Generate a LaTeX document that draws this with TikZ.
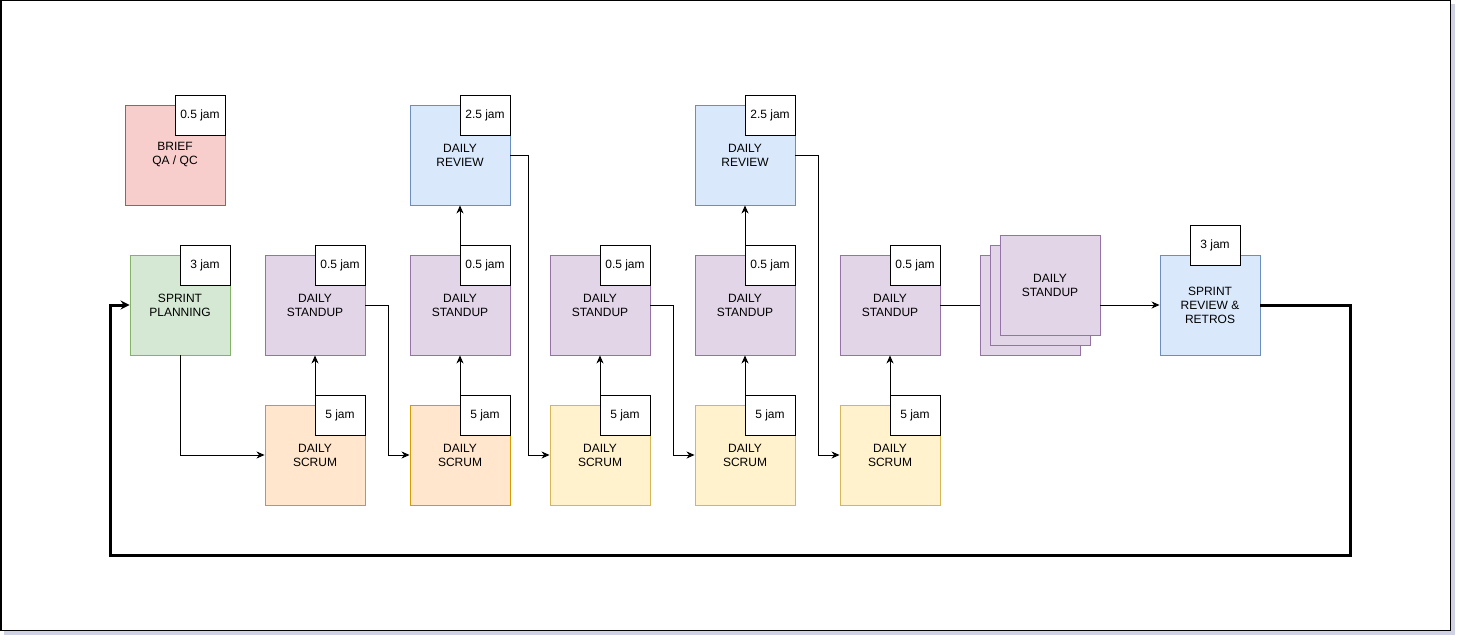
\documentclass[tikz,border=0pt]{standalone}
\usepackage{fontspec}
\setmainfont{Liberation Sans}
\usetikzlibrary{arrows.meta,positioning,calc}
\definecolor{redF}{HTML}{F8CECC}\definecolor{redD}{HTML}{B85450}
\definecolor{greenF}{HTML}{D5E8D4}\definecolor{greenD}{HTML}{82B366}
\definecolor{purpleF}{HTML}{E1D5E7}\definecolor{purpleD}{HTML}{9673A6}
\definecolor{orangeF}{HTML}{FFE6CC}\definecolor{orangeD}{HTML}{D79B00}
\definecolor{yellowF}{HTML}{FFF2CC}\definecolor{yellowD}{HTML}{D6B656}
\definecolor{blueF}{HTML}{DAE8FC}\definecolor{blueD}{HTML}{6C8EBF}
\definecolor{shadowC}{HTML}{CFD2E2}
\tikzset{
  box/.style={minimum width=100, minimum height=100, inner sep=0, align=center, line width=0.9pt, font=\fontsize{12}{14}\selectfont},
  jamtag/.style={draw, fill=white, minimum width=50, minimum height=40, inner sep=0, line width=0.9pt, font=\fontsize{12}{14}\selectfont},
  brief/.style={box, fill=redF, draw=redD},
  planning/.style={box, fill=greenF, draw=greenD},
  standup/.style={box, fill=purpleF, draw=purpleD},
  scrumA/.style={box, fill=orangeF, draw=orangeD},
  scrumB/.style={box, fill=yellowF, draw=yellowD},
  review/.style={box, fill=blueF, draw=blueD},
  arr/.style={line width=0.9pt, -{Stealth[length=8pt,width=7pt,inset=2.5pt]}},
  loopline/.style={line width=3pt, -{Stealth[length=9pt,width=9pt,inset=3pt]}}
}
\begin{document}
\begin{tikzpicture}[x=1pt,y=-1pt]
	\useasboundingbox (0,0) rectangle (1462,642);
	\fill[shadowC] (4,4) rectangle (1455,635);
	\draw[line width=1.5pt, fill=white] (0.75,0.75) rectangle (1450.5,630.5);
	% top row
	\node (brief) at (175,155)[brief] {BRIEF\\QA / QC};
	\node (briefT) at (200,115)[jamtag] {0.5 jam};
	\node (review2) at (460,155)[review] {DAILY\\REVIEW};
	\node (review2T) at (485,115)[jamtag] {2.5 jam};
	\node (review4) at (745,155)[review] {DAILY\\REVIEW};
	\node (review4T) at (770,115)[jamtag] {2.5 jam};
	% middle row
	\node (plan) at (180,305)[planning] {SPRINT\\PLANNING};
	\node (planT) at (205,265)[jamtag] {3 jam};
	\node (stand1) at (315,305)[standup] {DAILY\\STANDUP};
	\node (stand1T) at (340,265)[jamtag] {0.5 jam};
	\node (stand2) at (460,305)[standup] {DAILY\\STANDUP};
	\node (stand2T) at (485,265)[jamtag] {0.5 jam};
	\node (stand3) at (600,305)[standup] {DAILY\\STANDUP};
	\node (stand3T) at (625,265)[jamtag] {0.5 jam};
	\node (stand4) at (745,305)[standup] {DAILY\\STANDUP};
	\node (stand4T) at (770,265)[jamtag] {0.5 jam};
	\node (stand5) at (890,305)[standup] {DAILY\\STANDUP};
	\node (stand5T) at (915,265)[jamtag] {0.5 jam};
	\node (stackA) at (1030,305)[standup] {};
	\node (stackB) at (1040,295)[standup] {};
	\node (stackC) at (1050,285)[standup] {DAILY\\STANDUP};
	\node (retro) at (1210,305)[review] {SPRINT\\REVIEW \&\\RETROS};
	\node (retroT) at (1215,245)[jamtag] {3 jam};
	% bottom row
	\node (scrum1) at (315,455)[scrumA] {DAILY\\SCRUM};
	\node (scrum1T) at (340,415)[jamtag] {5 jam};
	\node (scrum2) at (460,455)[scrumA] {DAILY\\SCRUM};
	\node (scrum2T) at (485,415)[jamtag] {5 jam};
	\node (scrum3) at (600,455)[scrumB] {DAILY\\SCRUM};
	\node (scrum3T) at (625,415)[jamtag] {5 jam};
	\node (scrum4) at (745,455)[scrumB] {DAILY\\SCRUM};
	\node (scrum4T) at (770,415)[jamtag] {5 jam};
	\node (scrum5) at (890,455)[scrumB] {DAILY\\SCRUM};
	\node (scrum5T) at (915,415)[jamtag] {5 jam};
	% connectors
	\draw[arr] (plan.south) |- (scrum1.west);
	\draw[arr] (scrum1.north) -- (stand1.south);
	\draw[arr] (stand1.east) -- ++(23,0) |- (scrum2.west);
	\draw[arr] (scrum2.north) -- (stand2.south);
	\draw[arr] (stand2.north) -- (review2.south);
	\draw[arr] (review2.east) -- ++(18,0) |- (scrum3.west);
	\draw[arr] (scrum3.north) -- (stand3.south);
	\draw[arr] (stand3.east) -- ++(23,0) |- (scrum4.west);
	\draw[arr] (scrum4.north) -- (stand4.south);
	\draw[arr] (stand4.north) -- (review4.south);
	\draw[arr] (review4.east) -- ++(23,0) |- (scrum5.west);
	\draw[arr] (scrum5.north) -- (stand5.south);
	\draw[line width=0.9pt] (stand5.east) -- (stackA.west);
	\draw[arr] (stackC.east |- retro.west) -- (retro.west);
	% back to planning
	\coordinate (loopR) at (1350,555);
	\coordinate (loopL) at (110,555);
	\draw[loopline] (retro.east) -| (loopR) -- (loopL) |- (plan.west);
\end{tikzpicture}
\end{document}
